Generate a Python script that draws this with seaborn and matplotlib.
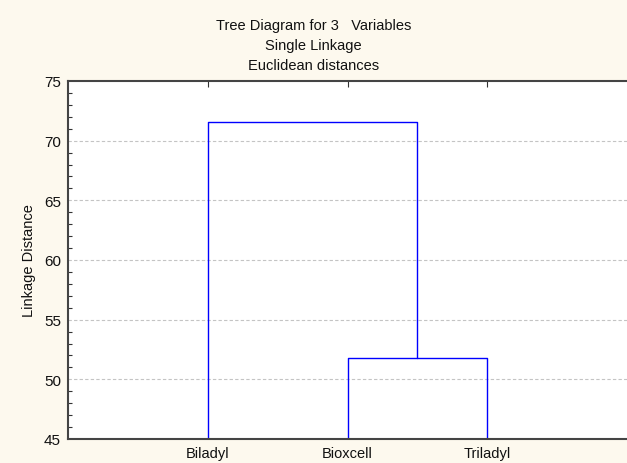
import pandas as pd
import matplotlib
matplotlib.use("Agg")
import matplotlib.pyplot as plt
import seaborn as sns
from matplotlib.ticker import MultipleLocator

# dendrogram data (single linkage, euclidean)
leaves = ['Biladyl', 'Bioxcell', 'Triladyl']
merge_pairs = [('Bioxcell', 'Triladyl'), ('Biladyl', 'Bioxcell+Triladyl')]
merge_heights = [51.8, 71.6]

sns.set_style("white")
plt.rcParams['font.family'] = ['Liberation Sans', 'DejaVu Sans']

# build U-shaped segments from the merge list
pos = {name: i + 1 for i, name in enumerate(leaves)}
height = {name: 0.0 for name in leaves}
rows = []
for k, ((a, b), h) in enumerate(zip(merge_pairs, merge_heights)):
    xa, xb = pos[a], pos[b]
    ya, yb = height[a], height[b]
    for x, y in [(xa, ya), (xa, h), (xb, h), (xb, yb)]:
        rows.append({'link': k, 'x': x, 'y': y})
    new = a + '+' + b
    pos[new] = (xa + xb) / 2
    height[new] = h
seg = pd.DataFrame(rows)

fig = plt.figure(figsize=(6.27, 4.64), dpi=100, facecolor='#fdf9ee')
ax = fig.add_axes([68 / 627, 24 / 464, 559 / 627, 358 / 464])
ax.set_facecolor('white')

sns.lineplot(data=seg, x='x', y='y', units='link', estimator=None, sort=False,
             color='#0000ff', linewidth=1.0, ax=ax)

ax.set_xlim(0, 4)
ax.set_ylim(45, 75)
ax.set_xticks(range(1, len(leaves) + 1))
ax.set_xticklabels(leaves)
ax.yaxis.set_major_locator(MultipleLocator(5))
ax.yaxis.set_minor_locator(MultipleLocator(1))
ax.tick_params(axis='y', which='major', direction='in', length=5, width=0.8,
               labelsize=11, color='#333333', labelcolor='#111111', pad=5)
ax.tick_params(axis='y', which='minor', direction='in', length=3, width=0.8,
               color='#333333', left=True)
ax.tick_params(axis='x', direction='in', length=4, width=0.8, top=True,
               bottom=False, labelsize=10.5, color='#333333', labelcolor='#111111', pad=5)

for v in range(50, 75, 5):
    ax.axhline(v, color='#c4c4c4', linestyle=(0, (3, 2)), linewidth=0.8, zorder=0)

for side in ['left', 'top', 'bottom']:
    ax.spines[side].set_color('#444444')
    ax.spines[side].set_linewidth(1.5)
ax.spines['right'].set_visible(False)

ax.set_xlabel('')
ax.set_ylabel('Linkage Distance', fontsize=10.5, color='#111111', labelpad=6)

title_lines = ['Tree Diagram for 3   Variables', 'Single Linkage', 'Euclidean distances']
for i, line in enumerate(title_lines):
    fig.text(0.5, 1 - (26 + 20 * i) / 464, line, ha='center', va='center',
             fontsize=10.5, color='#111111')

fig.savefig('out.png', dpi=100, facecolor=fig.get_facecolor())
